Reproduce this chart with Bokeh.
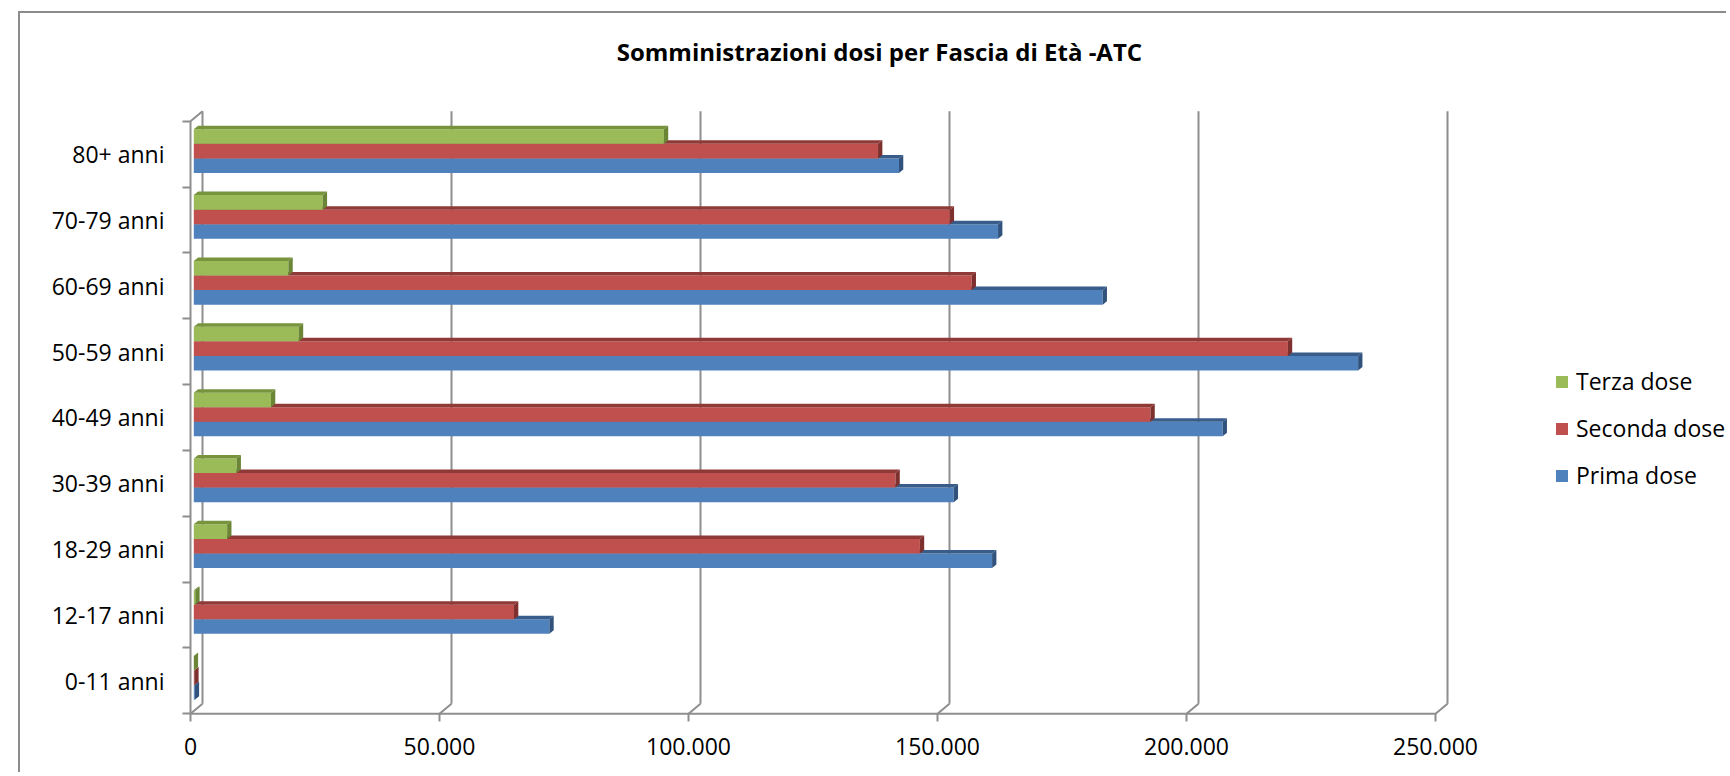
from bokeh.plotting import figure
from bokeh.models import Range1d, FixedTicker, Legend, LegendItem, Label, ColumnDataSource
from bokeh.embed import file_html
from bokeh.resources import INLINE

# ---------------- data ----------------
categories = ["0-11 anni", "12-17 anni", "18-29 anni", "30-39 anni", "40-49 anni",
              "50-59 anni", "60-69 anni", "70-79 anni", "80+ anni"]
prima_dose = [200, 71400, 160300, 152600, 206600, 233800, 182500, 161500, 141600]
seconda_dose = [100, 64300, 145800, 140900, 192100, 219700, 156200, 151800, 137400]
terza_dose = [0, 300, 6700, 8600, 15500, 21100, 19000, 25900, 94400]
series_names = ["Terza dose", "Seconda dose", "Prima dose"]
x_ticks = [0, 50000, 100000, 150000, 200000, 250000]
x_tick_labels = ["0", "50.000", "100.000", "150.000", "200.000", "250.000"]
title_text = "Somministrazioni dosi  per Fascia di Età -ATC"

# ---------------- layout (page px) ----------------
OX, OY = 20, 13          # figure content origin on page
FL, FT, FR, FB = 182, 20, 1728, 721   # frame edges on page
X0_PAGE = 190            # page x of value 0 on the front axis
YTOP_PAGE = 120.7        # page y of front top of category axis
BAND = 65.84             # px per category band
PX = 50000 / 249.0       # data units per px along x
PY = 1.0 / BAND          # data units per px along y

def xdata(page_x):
    return (page_x - X0_PAGE) * PX

def ydata(page_y):
    return (len(categories) - 0.5) - (page_y - YTOP_PAGE) * PY

W = FR - OX
H = 774 - OY

DXB, DYB = 12 * PX, 10 * PY          # back wall offset
DXBAR, DYBAR = 3.3 * PX, 3 * PY      # bar depth position
BH = 14.57 * PY                      # bar thickness
DXD, DYD = 4.3 * PX, 3.5 * PY        # bar 3D depth

GRID = "#8E8E8E"
FONT = "Open Sans"

p = figure(width=W, height=H,
           x_range=Range1d(xdata(FL), xdata(FR)),
           y_range=Range1d(ydata(FB), ydata(FT)),
           output_backend="svg", toolbar_location=None,
           min_border_left=FL - OX, min_border_top=FT - OY,
           min_border_right=0, min_border_bottom=(OY + H) - FB)
p.margin = (11, 0, 0, 18)
p.styles = {"border-top": "2px solid #8C8C8C", "border-left": "2px solid #8C8C8C"}
p.outline_line_color = None
p.xgrid.visible = False
p.ygrid.visible = False
p.background_fill_color = "white"
p.border_fill_color = "white"

ncat = len(categories)
y_bottom = -0.5
y_top = ncat - 0.5

# ---------------- walls / grid ----------------
gx0, gy0, gx1, gy1 = [], [], [], []
for v in x_ticks:
    gx0.append(v + DXB); gy0.append(y_bottom + DYB); gx1.append(v + DXB); gy1.append(y_top + DYB)
    gx0.append(v); gy0.append(y_bottom); gx1.append(v + DXB); gy1.append(y_bottom + DYB)
gx0.append(x_ticks[0]); gy0.append(y_bottom); gx1.append(x_ticks[-1]); gy1.append(y_bottom)
gx0.append(0); gy0.append(y_bottom); gx1.append(0); gy1.append(y_top)
gx0.append(0); gy0.append(y_top); gx1.append(DXB); gy1.append(y_top + DYB)
p.segment(x0=gx0, y0=gy0, x1=gx1, y1=gy1, line_color=GRID, line_width=2)

# ---------------- bars ----------------
front_colors = {"Terza dose": "#9BBB59", "Seconda dose": "#C0504D", "Prima dose": "#4F81BD"}
top_colors = {"Terza dose": "#77933C", "Seconda dose": "#8F3A37", "Prima dose": "#385D8A"}
side_colors = {"Terza dose": "#6A8535", "Seconda dose": "#7E302E", "Prima dose": "#30527D"}
series_values = {"Terza dose": terza_dose, "Seconda dose": seconda_dose, "Prima dose": prima_dose}

renderers = {}
for j in [2, 1, 0]:
    name = series_names[j]
    vals = series_values[name]
    left, right, top, bottom = [], [], [], []
    txs, tys, sxs, sys_ = [], [], [], []
    for k, v in enumerate(vals):
        yc = k + DYBAR + (1 - j) * BH
        x0, x1 = DXBAR, v + DXBAR
        yt, yb = yc + BH / 2, yc - BH / 2
        left.append(x0); right.append(x1); top.append(yt); bottom.append(yb)
        txs.append([x0, x1, x1 + DXD, x0 + DXD]); tys.append([yt, yt, yt + DYD, yt + DYD])
        sxs.append([x1, x1 + DXD, x1 + DXD, x1]); sys_.append([yt, yt + DYD, yb + DYD, yb])
    src = ColumnDataSource(dict(left=left, right=right, top=top, bottom=bottom))
    renderers[name] = p.quad(left="left", right="right", top="top", bottom="bottom", source=src,
                             fill_color=front_colors[name], line_color=None)
    p.patches(xs=txs, ys=tys, fill_color=top_colors[name], line_color=None)
    p.patches(xs=sxs, ys=sys_, fill_color=side_colors[name], line_color=None)

# ---------------- axes ----------------
p.xaxis.ticker = FixedTicker(ticks=x_ticks)
p.xaxis.major_label_overrides = {t: l for t, l in zip(x_ticks, x_tick_labels)}
p.xaxis.axis_line_color = None
p.xaxis.major_tick_in = 8
p.xaxis.major_tick_out = 0
p.xaxis.major_tick_line_color = GRID
p.xaxis.major_tick_line_width = 2
p.xaxis.minor_tick_line_color = None
p.xaxis.major_label_standoff = 16
p.xaxis.major_label_text_font = FONT
p.xaxis.major_label_text_font_size = "23px"
p.xaxis.major_label_text_color = "#000000"

p.yaxis.ticker = FixedTicker(ticks=list(range(ncat)), minor_ticks=[k - 0.5 for k in range(ncat + 1)])
p.yaxis.major_label_overrides = {i: c for i, c in enumerate(categories)}
p.yaxis.axis_line_color = None
p.yaxis.major_tick_line_color = None
p.yaxis.major_tick_in = 0
p.yaxis.major_tick_out = 0
p.yaxis.minor_tick_in = 8
p.yaxis.minor_tick_out = 0
p.yaxis.minor_tick_line_color = GRID
p.yaxis.minor_tick_line_width = 2
p.yaxis.major_label_standoff = 18
p.yaxis.major_label_text_font = FONT
p.yaxis.major_label_text_font_size = "23px"
p.yaxis.major_label_text_color = "#000000"

# ---------------- title ----------------
p.add_layout(Label(x=882 - FL, y=FB - 51, x_units="screen", y_units="screen",
                   text=title_text, text_align="center", text_baseline="middle",
                   text_font=FONT, text_font_style="bold", text_font_size="24px",
                   text_color="#000000"))

# ---------------- legend ----------------
legend = Legend(items=[LegendItem(label=n, renderers=[renderers[n]]) for n in series_names],
                location=(1554 - FL, FB - 491), orientation="vertical",
                padding=0, margin=0, spacing=15, label_height=30,
                glyph_width=15, glyph_height=15, label_standoff=7,
                border_line_color=None, background_fill_alpha=0,
                label_text_font=FONT, label_text_font_size="23px", label_text_color="#000000")
p.add_layout(legend)

open("out.html", "w").write(file_html(p, INLINE))
